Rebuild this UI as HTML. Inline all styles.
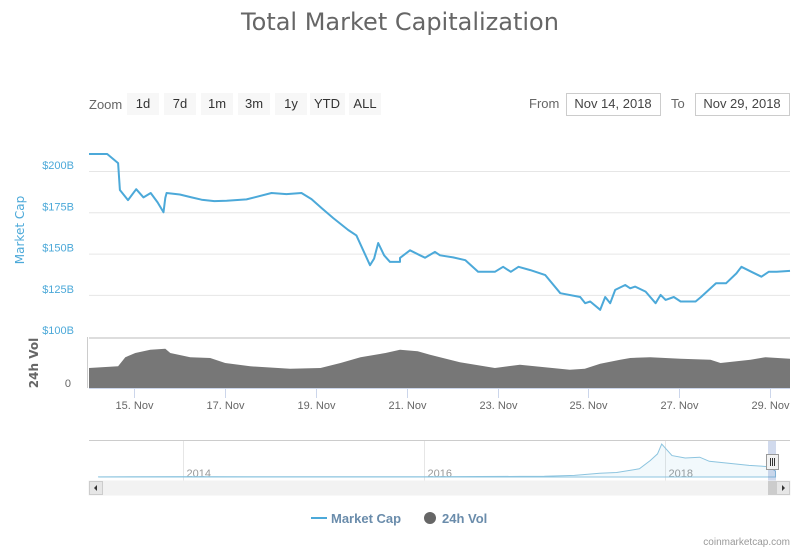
<!DOCTYPE html>
<html><head><meta charset="utf-8"><style>
body{margin:0;background:#fff;font-family:"Liberation Sans",sans-serif;}
#wrap{position:relative;width:800px;height:550px;overflow:hidden;}
svg text{font-family:"Liberation Sans",sans-serif;}
svg text.dv{font-family:"DejaVu Sans","Liberation Sans",sans-serif;}
</style></head><body>
<div id="wrap">
<svg id="c" width="800" height="550" xmlns="http://www.w3.org/2000/svg">
<text class="dv" x="400" y="30" text-anchor="middle" font-size="24" fill="#666">Total Market Capitalization</text>
<text x="89" y="109" font-size="13" fill="#666">Zoom</text>
<g><rect x="127" y="93" width="32" height="22" fill="#f7f7f7"/><text x="143" y="108" text-anchor="middle" font-size="13" fill="#333">1d</text></g>
<g><rect x="164" y="93" width="32" height="22" fill="#f7f7f7"/><text x="180" y="108" text-anchor="middle" font-size="13" fill="#333">7d</text></g>
<g><rect x="201" y="93" width="32" height="22" fill="#f7f7f7"/><text x="217" y="108" text-anchor="middle" font-size="13" fill="#333">1m</text></g>
<g><rect x="238" y="93" width="32" height="22" fill="#f7f7f7"/><text x="254" y="108" text-anchor="middle" font-size="13" fill="#333">3m</text></g>
<g><rect x="275" y="93" width="32" height="22" fill="#f7f7f7"/><text x="291" y="108" text-anchor="middle" font-size="13" fill="#333">1y</text></g>
<g><rect x="310" y="93" width="35" height="22" fill="#f7f7f7"/><text x="327" y="108" text-anchor="middle" font-size="13" fill="#333">YTD</text></g>
<g><rect x="349" y="93" width="32" height="22" fill="#f7f7f7"/><text x="365" y="108" text-anchor="middle" font-size="13" fill="#333">ALL</text></g>
<text x="529" y="108" font-size="13" fill="#666">From</text>
<g><rect x="566.5" y="93.5" width="94" height="22" fill="#fff" stroke="#ccc"/><text x="613" y="108" text-anchor="middle" font-size="13" fill="#444">Nov 14, 2018</text></g>
<text x="671" y="108" font-size="13" fill="#666">To</text>
<g><rect x="695.5" y="93.5" width="94" height="22" fill="#fff" stroke="#ccc"/><text x="742" y="108" text-anchor="middle" font-size="13" fill="#444">Nov 29, 2018</text></g>
<g id="plot"></g>
<text class="dv" transform="translate(24,230) rotate(-90)" text-anchor="middle" font-size="12" fill="#4ca9d9">Market Cap</text>
<text class="dv" transform="translate(38,363) rotate(-90)" text-anchor="middle" font-size="12" font-weight="bold" fill="#666">24h Vol</text>
<g>
<g><line x1="311" y1="518" x2="327" y2="518" stroke="#4ca9d9" stroke-width="2"/><text x="331" y="523" font-size="13" font-weight="bold" fill="#6a8cab">Market Cap</text></g>
<g><circle cx="430" cy="518" r="6" fill="#666"/><text x="442" y="523" font-size="13" font-weight="bold" fill="#6a8cab">24h Vol</text></g>
</g>
<text x="790" y="545" text-anchor="end" font-size="10" fill="#999">coinmarketcap.com</text>
</svg></div>
<script>
// Market cap: day of November (fractional) and value in $B
const capDays=[14.00,14.40,14.64,14.68,14.86,15.04,15.20,15.36,15.51,15.64,15.68,15.71,16.00,16.26,16.48,16.76,17.03,17.47,18.02,18.35,18.68,18.90,19.12,19.38,19.71,19.89,20.04,20.19,20.28,20.37,20.50,20.63,20.85,20.85,21.07,21.29,21.40,21.62,21.73,22.02,22.29,22.57,22.94,23.12,23.29,23.46,23.72,24.05,24.38,24.82,24.93,25.04,25.26,25.37,25.48,25.59,25.81,25.92,26.03,26.26,26.48,26.59,26.70,26.88,27.03,27.36,27.48,27.81,28.03,28.26,28.37,28.59,28.81,28.97,29.15,29.44];
const capVals=[210.3,210.3,204.8,188.5,182.4,189.0,184.0,186.7,181.0,175.0,183.7,186.7,185.8,184.0,182.6,181.8,182.0,182.8,186.7,186.0,186.7,183.0,177.6,171.5,164.3,161.0,152.0,143.0,147.0,156.4,149.0,145.0,145.0,147.4,152.0,149.0,147.5,151.0,149.0,147.7,146.0,139.0,139.0,142.0,139.0,142.0,140.0,137.0,126.0,123.7,120.0,121.0,116.0,123.7,120.0,128.0,131.0,129.0,130.0,127.0,120.0,125.0,122.0,123.7,121.0,121.0,123.7,132.0,132.0,138.0,142.0,139.0,136.0,139.0,139.0,139.5];
// 24h volume ($B)
const volDays=[14.00,14.64,14.80,15.02,15.35,15.68,15.79,16.23,16.67,17.00,17.55,18.43,19.10,19.54,19.98,20.53,20.85,21.24,21.51,22.17,22.94,23.49,24.04,24.59,24.92,25.26,25.70,25.92,26.36,27.03,27.69,27.91,28.57,28.90,29.44];
const volVals=[24,26,37,42,46,47,42,37,36,30,26,23,24,30,37,42,46,44,40,31,24,28,25,22,23,29,34,36,37,35,34,30,34,37,35];
// Navigator: all-time market cap by year ($B)
const navYears=[2013.3,2014.0,2015.0,2016.0,2016.8,2017.0,2017.25,2017.46,2017.6,2017.79,2017.88,2017.94,2017.975,2018.06,2018.17,2018.29,2018.37,2018.54,2018.7,2018.87,2018.92];
const navVals=[2,10,5,7,14,18,40,90,110,200,400,560,800,520,460,480,380,330,280,250,140];
const capTicks=[100,125,150,175,200];
const capTickLabels=["$100B","$125B","$150B","$175B","$200B"];
const dayTicks=[15,17,19,21,23,25,27,29];
const navYearTicks=[2014,2016,2018];

const NS="http://www.w3.org/2000/svg";
const plot=document.getElementById('plot');
function el(t,a,p){const e=document.createElementNS(NS,t);for(const k in a)e.setAttribute(k,a[k]);(p||plot).appendChild(e);return e;}
const X0=89,X1=790,D0=14,D1=29.44;
const xDay=d=>X0+(d-D0)/(D1-D0)*(X1-X0);
const yCap=v=>171+(200-v)/25*41.3;
const yVol=v=>388-v*50/60;
const N0=2013.22,N1=2019.04;
const xNav=y=>X0+(y-N0)/(N1-N0)*(X1-X0);
const yNav=v=>477-v*33/800;

capTicks.forEach((v,i)=>{
  if(v>100){const g=el('line',{x1:X0,x2:X1,y1:yCap(v)+0.5,y2:yCap(v)+0.5,stroke:'#e6e6e6'});
  
  }
  const t=el('text',{x:74,y:yCap(v)-2,'text-anchor':'end','font-size':11,fill:'#4ca9d9'});
  t.textContent=capTickLabels[i];
  
  
});
const vt=el('text',{x:71,y:387,'text-anchor':'end','font-size':11,fill:'#666'});vt.textContent='0';


el('line',{x1:X0,x2:X1,y1:338,y2:338,stroke:'#ddd','stroke-width':2});
el('line',{x1:87.5,x2:87.5,y1:337,y2:388,stroke:'#ccc'});

let vp='M'+xDay(volDays[0])+','+yVol(0);
volDays.forEach((d,i)=>vp+='L'+xDay(d).toFixed(1)+','+yVol(volVals[i]).toFixed(1));
vp+='L'+xDay(volDays[volDays.length-1])+','+yVol(0)+'Z';
const va=el('path',{d:vp,fill:'#777'});



let cp='';
capDays.forEach((d,i)=>cp+=(i?'L':'M')+xDay(d).toFixed(1)+','+yCap(capVals[i]).toFixed(1));
const cl=el('path',{d:cp,fill:'none',stroke:'#4ca9d9','stroke-width':2,'stroke-linejoin':'round'});



el('line',{x1:X0,x2:X1,y1:388.5,y2:388.5,stroke:'#ccd6eb'});
dayTicks.forEach(d=>{
  const x=Math.round(xDay(d))+0.5;
  el('line',{x1:x,x2:x,y1:389,y2:398,stroke:'#ccd6eb'});
  const t=el('text',{x:x,y:409,'text-anchor':'middle','font-size':11,fill:'#666'});
  t.textContent=d+'. Nov';
  
  
});

el('line',{x1:X0,x2:X1,y1:440.5,y2:440.5,stroke:'#ccc'});
navYearTicks.forEach(y=>{
  const x=Math.round(xNav(y))+0.5;
  el('line',{x1:x,x2:x,y1:441,y2:481,stroke:'#e6e6e6'});
  const t=el('text',{x:x+3,y:477,'font-size':11,fill:'#999'});t.textContent=y;
  
  
});
let np='M'+xNav(navYears[0])+','+yNav(0);
navYears.forEach((y,i)=>np+='L'+xNav(y).toFixed(1)+','+yNav(navVals[i]).toFixed(1));
np+='L'+xNav(navYears[navYears.length-1])+','+yNav(0)+'Z';
const nv=el('path',{d:np,fill:'rgba(76,169,217,0.07)',stroke:'#8cc4df','stroke-width':1});


const sel=el('rect',{x:768,y:441,width:8,height:40,fill:'rgba(102,133,194,0.3)'});


const h=el('rect',{x:766.5,y:454.5,width:12,height:15,fill:'#f2f2f2',stroke:'#999'});


[770.5,772.5,774.5].forEach(x=>el('line',{x1:x,x2:x,y1:458,y2:466,stroke:'#333'}));
const sb=el('rect',{x:89,y:481,width:701,height:14,fill:'#f2f2f2',stroke:'#f2f2f2'});


el('rect',{x:768,y:481,width:8,height:14,fill:'#ccc'});
const lb=el('rect',{x:89.5,y:481.5,width:13,height:13,fill:'#e6e6e6',stroke:'#ccc'});


el('path',{d:'M97,485 L94,488 L97,491Z',fill:'#333'});
const rb=el('rect',{x:776.5,y:481.5,width:13,height:13,fill:'#e6e6e6',stroke:'#ccc'});


el('path',{d:'M782,485 L785,488 L782,491Z',fill:'#333'});
</script>
</body></html>
